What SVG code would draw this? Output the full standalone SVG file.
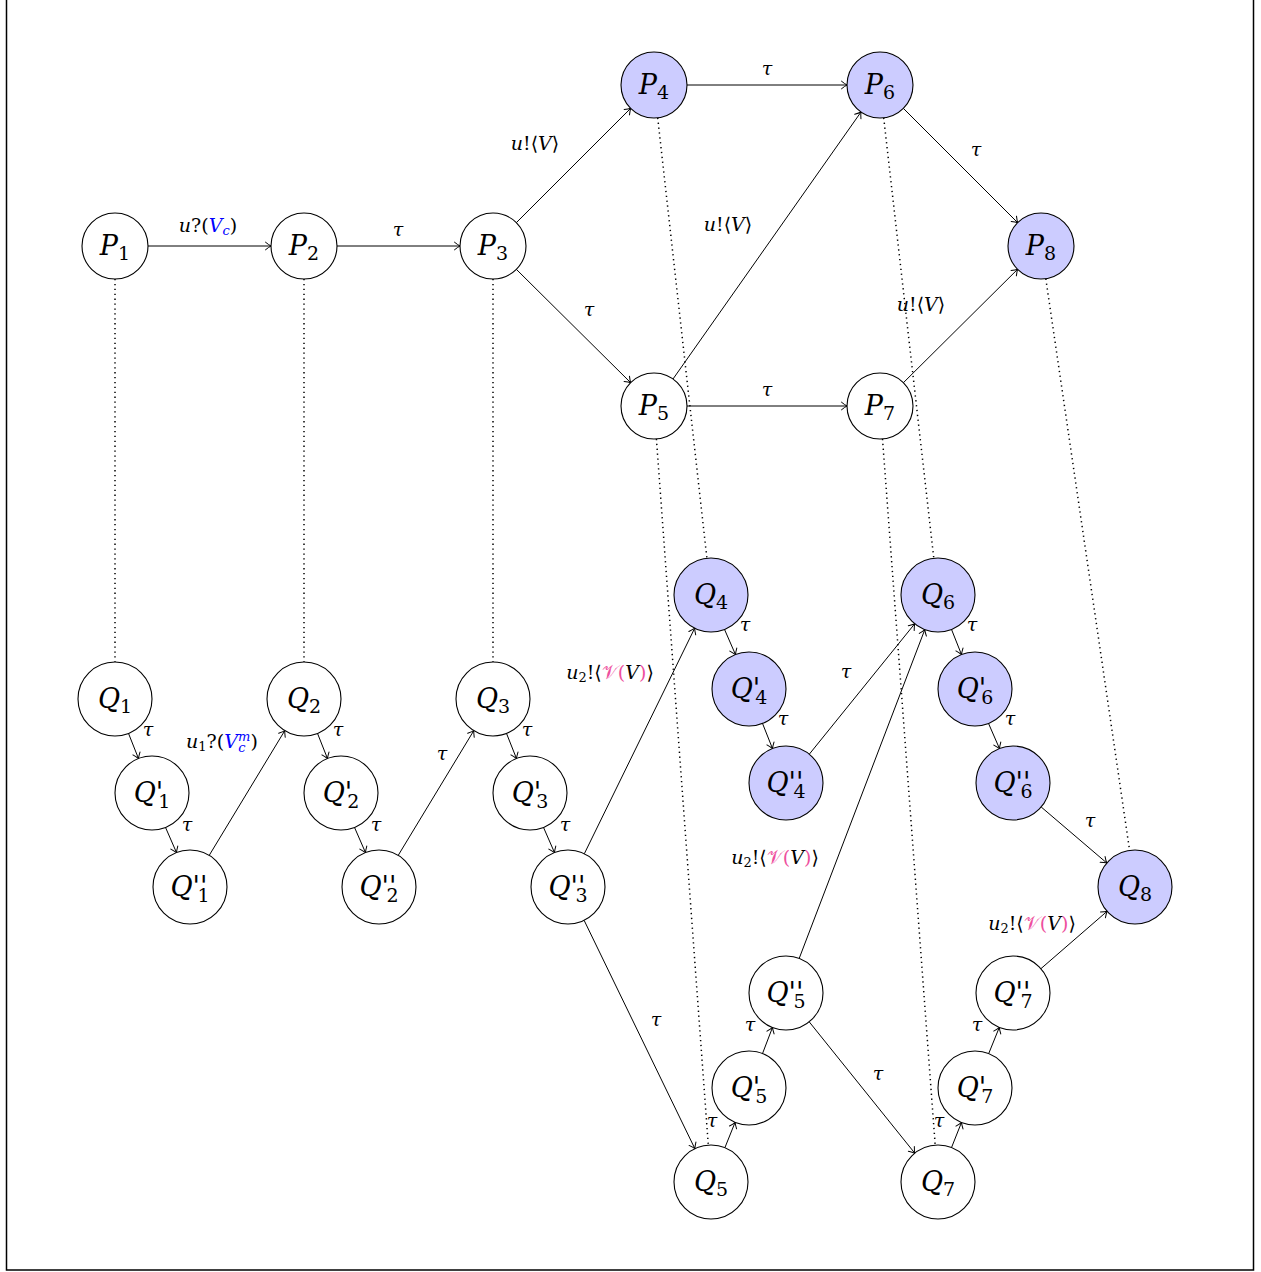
<svg xmlns="http://www.w3.org/2000/svg" width="1261" height="1272" viewBox="0 0 1261 1272">
<defs>
<marker id="a" markerWidth="10" markerHeight="10" refX="0" refY="0" viewBox="-7 -5 9 10" orient="auto" markerUnits="userSpaceOnUse">
<path d="M-5.5,-3.8 Q-2,-1 0,0 Q-2,1 -5.5,3.8" fill="none" stroke="#000" stroke-width="1" stroke-linecap="round"/>
</marker>
<style>
.node circle{stroke:#000;stroke-width:1.1;fill:#fff}
.hl circle{fill:#ccccff}
.nl{font-family:"DejaVu Serif",serif;font-style:italic;font-size:27px;text-anchor:middle;fill:#000}
.s{font-style:normal;font-size:19px}
.pr{font-size:27px}
.el{font-family:"DejaVu Serif",serif;font-size:19px;text-anchor:middle;fill:#000}
.i{font-style:italic}
.ss{font-size:13px}
.b{fill:#0000ff}
.pk{fill:#ee4f9e}
.edge{stroke:#000;stroke-width:1;fill:none;marker-end:url(#a)}
.dot{stroke:#000;stroke-width:1.5;stroke-dasharray:1.3 3.6;fill:none}
</style>
</defs>
<rect x="6.5" y="-1" width="1247" height="1271" fill="#fff" stroke="#000" stroke-width="1.5"/>

<g id="connectors">
<line class="dot" x1="115" y1="279" x2="115" y2="662"/>
<line class="dot" x1="304" y1="279" x2="304" y2="662"/>
<line class="dot" x1="493" y1="279" x2="493" y2="662"/>
<line class="dot" x1="657.7" y1="117.8" x2="706.9" y2="558.2"/>
<line class="dot" x1="883.7" y1="117.8" x2="933.8" y2="558.2"/>
<line class="dot" x1="1045.8" y1="278.7" x2="1129.6" y2="850.4"/>
<line class="dot" x1="656.4" y1="438.9" x2="708.3" y2="1145.1"/>
<line class="dot" x1="882.5" y1="438.9" x2="935.2" y2="1145.1"/>
<line class="edge" x1="148" y1="246" x2="271" y2="246"/>
<line class="edge" x1="337" y1="246" x2="460" y2="246"/>
<line class="edge" x1="516.3" y1="222.7" x2="630.7" y2="108.3"/>
<line class="edge" x1="516.3" y1="269.3" x2="630.7" y2="382.7"/>
<line class="edge" x1="687" y1="85" x2="847" y2="85"/>
<line class="edge" x1="673" y1="379" x2="861" y2="112"/>
<line class="edge" x1="687" y1="406" x2="847" y2="406"/>
<line class="edge" x1="903.3" y1="108.3" x2="1017.7" y2="222.7"/>
<line class="edge" x1="903.4" y1="382.7" x2="1017.6" y2="269.3"/>
<line class="edge" x1="128.5" y1="733.4" x2="138.5" y2="758.6"/>
<line class="edge" x1="165.5" y1="827.4" x2="176.5" y2="852.6"/>
<line class="edge" x1="209.2" y1="855.4" x2="284.8" y2="730.6"/>
<line class="edge" x1="317.5" y1="733.4" x2="327.5" y2="758.6"/>
<line class="edge" x1="354.5" y1="827.4" x2="365.5" y2="852.6"/>
<line class="edge" x1="398.2" y1="855.4" x2="473.8" y2="730.6"/>
<line class="edge" x1="506.5" y1="733.4" x2="516.5" y2="758.6"/>
<line class="edge" x1="543.5" y1="827.4" x2="554.5" y2="852.6"/>
<line class="edge" x1="584.3" y1="853.8" x2="694.7" y2="628.2"/>
<line class="edge" x1="584.1" y1="920.3" x2="694.9" y2="1148.7"/>
<line class="edge" x1="724.5" y1="629.4" x2="735.5" y2="654.6"/>
<line class="edge" x1="762.5" y1="723.4" x2="772.5" y2="748.6"/>
<line class="edge" x1="809.3" y1="754.2" x2="914.7" y2="623.8"/>
<line class="edge" x1="951.5" y1="629.4" x2="961.5" y2="654.6"/>
<line class="edge" x1="988.5" y1="723.4" x2="999.5" y2="748.6"/>
<line class="edge" x1="1041.2" y1="807" x2="1106.8" y2="863"/>
<line class="edge" x1="724.9" y1="1147.7" x2="735.1" y2="1122.3"/>
<line class="edge" x1="762.5" y1="1053.6" x2="772.5" y2="1027.4"/>
<line class="edge" x1="799.2" y1="958.4" x2="924.8" y2="629.6"/>
<line class="edge" x1="809.2" y1="1021.8" x2="914.8" y2="1153.2"/>
<line class="edge" x1="951.5" y1="1147.6" x2="961.5" y2="1122.4"/>
<line class="edge" x1="988.7" y1="1053.6" x2="999.3" y2="1027.4"/>
<line class="edge" x1="1040.9" y1="968.7" x2="1107.1" y2="911.3"/>
<text class="el" x="208" y="232"><tspan class="i">u</tspan>?(<tspan class="i b">V</tspan><tspan class="i b ss" dy="3">c</tspan><tspan dy="-3">)</tspan></text>
<text class="el i" x="398" y="236">τ</text>
<text class="el" x="535" y="150"><tspan class="i">u</tspan>!⟨<tspan class="i">V</tspan>⟩</text>
<text class="el i" x="589" y="316">τ</text>
<text class="el i" x="767" y="75">τ</text>
<text class="el" x="728" y="231"><tspan class="i">u</tspan>!⟨<tspan class="i">V</tspan>⟩</text>
<text class="el i" x="976" y="156">τ</text>
<text class="el i" x="767" y="396">τ</text>
<text class="el" x="921" y="311"><tspan class="i">u</tspan>!⟨<tspan class="i">V</tspan>⟩</text>
<text class="el i" x="148" y="736">τ</text>
<text class="el i" x="187" y="831">τ</text>
<text class="el" x="222" y="748"><tspan class="i">u</tspan><tspan class="ss" dy="3">1</tspan><tspan dy="-3">?(</tspan><tspan class="i b">V</tspan><tspan class="i b ss" dy="-7">m</tspan><tspan class="i b ss" dx="-12" dy="11">c</tspan><tspan dx="5" dy="-4">)</tspan></text>
<text class="el i" x="338" y="736">τ</text>
<text class="el i" x="376" y="831">τ</text>
<text class="el i" x="442" y="760">τ</text>
<text class="el i" x="527" y="736">τ</text>
<text class="el i" x="565" y="831">τ</text>
<text class="el" x="610" y="679"><tspan class="i">u</tspan><tspan class="ss" dy="3">2</tspan><tspan dy="-3">!⟨</tspan><tspan class="pk">𝒱(</tspan><tspan class="i">V</tspan><tspan class="pk">)</tspan>⟩</text>
<text class="el i" x="656" y="1026">τ</text>
<text class="el i" x="745" y="631">τ</text>
<text class="el i" x="783" y="725">τ</text>
<text class="el i" x="846" y="678">τ</text>
<text class="el i" x="972" y="631">τ</text>
<text class="el i" x="1010" y="725">τ</text>
<text class="el i" x="1090" y="827">τ</text>
<text class="el" x="775" y="864"><tspan class="i">u</tspan><tspan class="ss" dy="3">2</tspan><tspan dy="-3">!⟨</tspan><tspan class="pk">𝒱(</tspan><tspan class="i">V</tspan><tspan class="pk">)</tspan>⟩</text>
<text class="el i" x="712" y="1127">τ</text>
<text class="el i" x="750" y="1031">τ</text>
<text class="el i" x="878" y="1080">τ</text>
<text class="el i" x="939" y="1127">τ</text>
<text class="el i" x="977" y="1031">τ</text>
<text class="el" x="1032" y="930"><tspan class="i">u</tspan><tspan class="ss" dy="3">2</tspan><tspan dy="-3">!⟨</tspan><tspan class="pk">𝒱(</tspan><tspan class="i">V</tspan><tspan class="pk">)</tspan>⟩</text>
</g>

<g id="P1" class="node"><circle cx="115" cy="246" r="33"/><text class="nl" x="115" y="255">P<tspan class="s" dy="5">1</tspan></text></g>
<g id="P2" class="node"><circle cx="304" cy="246" r="33"/><text class="nl" x="304" y="255">P<tspan class="s" dy="5">2</tspan></text></g>
<g id="P3" class="node"><circle cx="493" cy="246" r="33"/><text class="nl" x="493" y="255">P<tspan class="s" dy="5">3</tspan></text></g>
<g id="P4" class="node hl"><circle cx="654" cy="85" r="33"/><text class="nl" x="654" y="94">P<tspan class="s" dy="5">4</tspan></text></g>
<g id="P5" class="node"><circle cx="654" cy="406" r="33"/><text class="nl" x="654" y="415">P<tspan class="s" dy="5">5</tspan></text></g>
<g id="P6" class="node hl"><circle cx="880" cy="85" r="33"/><text class="nl" x="880" y="94">P<tspan class="s" dy="5">6</tspan></text></g>
<g id="P7" class="node"><circle cx="880" cy="406" r="33"/><text class="nl" x="880" y="415">P<tspan class="s" dy="5">7</tspan></text></g>
<g id="P8" class="node hl"><circle cx="1041" cy="246" r="33"/><text class="nl" x="1041" y="255">P<tspan class="s" dy="5">8</tspan></text></g>

<g id="Q1" class="node"><circle cx="115" cy="699" r="37"/><text class="nl" x="115" y="708">Q<tspan class="s" dy="5">1</tspan></text></g>
<g id="Q1p" class="node"><circle cx="152" cy="793" r="37"/><text class="nl" x="152" y="802">Q<tspan class="pr">'</tspan><tspan class="s" dx="-5" dy="6">1</tspan></text></g>
<g id="Q1pp" class="node"><circle cx="190" cy="887" r="37"/><text class="nl" x="190" y="896">Q<tspan class="pr">''</tspan><tspan class="s" dx="-10" dy="6">1</tspan></text></g>
<g id="Q2" class="node"><circle cx="304" cy="699" r="37"/><text class="nl" x="304" y="708">Q<tspan class="s" dy="5">2</tspan></text></g>
<g id="Q2p" class="node"><circle cx="341" cy="793" r="37"/><text class="nl" x="341" y="802">Q<tspan class="pr">'</tspan><tspan class="s" dx="-5" dy="6">2</tspan></text></g>
<g id="Q2pp" class="node"><circle cx="379" cy="887" r="37"/><text class="nl" x="379" y="896">Q<tspan class="pr">''</tspan><tspan class="s" dx="-10" dy="6">2</tspan></text></g>
<g id="Q3" class="node"><circle cx="493" cy="699" r="37"/><text class="nl" x="493" y="708">Q<tspan class="s" dy="5">3</tspan></text></g>
<g id="Q3p" class="node"><circle cx="530" cy="793" r="37"/><text class="nl" x="530" y="802">Q<tspan class="pr">'</tspan><tspan class="s" dx="-5" dy="6">3</tspan></text></g>
<g id="Q3pp" class="node"><circle cx="568" cy="887" r="37"/><text class="nl" x="568" y="896">Q<tspan class="pr">''</tspan><tspan class="s" dx="-10" dy="6">3</tspan></text></g>
<g id="Q4" class="node hl"><circle cx="711" cy="595" r="37"/><text class="nl" x="711" y="604">Q<tspan class="s" dy="5">4</tspan></text></g>
<g id="Q4p" class="node hl"><circle cx="749" cy="689" r="37"/><text class="nl" x="749" y="698">Q<tspan class="pr">'</tspan><tspan class="s" dx="-5" dy="6">4</tspan></text></g>
<g id="Q4pp" class="node hl"><circle cx="786" cy="783" r="37"/><text class="nl" x="786" y="792">Q<tspan class="pr">''</tspan><tspan class="s" dx="-10" dy="6">4</tspan></text></g>
<g id="Q6" class="node hl"><circle cx="938" cy="595" r="37"/><text class="nl" x="938" y="604">Q<tspan class="s" dy="5">6</tspan></text></g>
<g id="Q6p" class="node hl"><circle cx="975" cy="689" r="37"/><text class="nl" x="975" y="698">Q<tspan class="pr">'</tspan><tspan class="s" dx="-5" dy="6">6</tspan></text></g>
<g id="Q6pp" class="node hl"><circle cx="1013" cy="783" r="37"/><text class="nl" x="1013" y="792">Q<tspan class="pr">''</tspan><tspan class="s" dx="-10" dy="6">6</tspan></text></g>
<g id="Q8" class="node hl"><circle cx="1135" cy="887" r="37"/><text class="nl" x="1135" y="896">Q<tspan class="s" dy="5">8</tspan></text></g>
<g id="Q5" class="node"><circle cx="711" cy="1182" r="37"/><text class="nl" x="711" y="1191">Q<tspan class="s" dy="5">5</tspan></text></g>
<g id="Q5p" class="node"><circle cx="749" cy="1088" r="37"/><text class="nl" x="749" y="1097">Q<tspan class="pr">'</tspan><tspan class="s" dx="-5" dy="6">5</tspan></text></g>
<g id="Q5pp" class="node"><circle cx="786" cy="993" r="37"/><text class="nl" x="786" y="1002">Q<tspan class="pr">''</tspan><tspan class="s" dx="-10" dy="6">5</tspan></text></g>
<g id="Q7" class="node"><circle cx="938" cy="1182" r="37"/><text class="nl" x="938" y="1191">Q<tspan class="s" dy="5">7</tspan></text></g>
<g id="Q7p" class="node"><circle cx="975" cy="1088" r="37"/><text class="nl" x="975" y="1097">Q<tspan class="pr">'</tspan><tspan class="s" dx="-5" dy="6">7</tspan></text></g>
<g id="Q7pp" class="node"><circle cx="1013" cy="993" r="37"/><text class="nl" x="1013" y="1002">Q<tspan class="pr">''</tspan><tspan class="s" dx="-10" dy="6">7</tspan></text></g>
</svg>
